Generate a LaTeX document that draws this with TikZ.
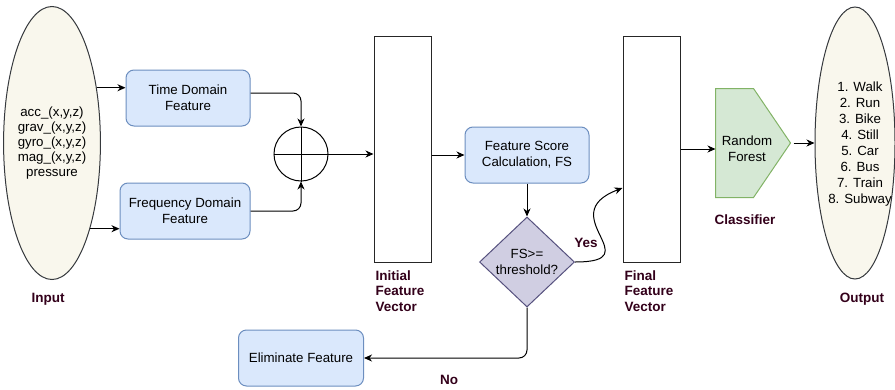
\documentclass[tikz,border=0pt]{standalone}
\usepackage{fontspec}
\setmainfont{Liberation Sans}
\usetikzlibrary{shapes.geometric,arrows.meta}
\definecolor{boxfill}{HTML}{DAE8FC}
\definecolor{boxline}{HTML}{6C8EBF}
\definecolor{condfill}{HTML}{D0CEE2}
\definecolor{condline}{HTML}{56517E}
\definecolor{rffill}{HTML}{D5E8D4}
\definecolor{rfline}{HTML}{82B366}
\definecolor{ellfill}{HTML}{F9F7ED}
\definecolor{ellline}{HTML}{36393D}
\definecolor{lblred}{HTML}{33001A}
\begin{document}
\begin{tikzpicture}[x=1pt,y=-1pt,line width=1pt,>={Stealth[length=8pt,width=7pt,inset=2.5pt]},
	font=\fontsize{13.3}{16}\selectfont,
	box/.style={draw=boxline,fill=boxfill,rounded corners=8pt,minimum height=56pt,align=center,inner sep=0pt},
	vec/.style={draw=black!85,minimum width=57pt,minimum height=226pt},
	lbl/.style={font=\fontsize{13.5}{15.5}\selectfont\bfseries,text=lblred,align=left,inner sep=0pt},
	sense/.style={ellipse,draw=ellline,fill=ellfill,align=center,inner sep=0pt}]
	\useasboundingbox (0,0) rectangle (895,389);
	% sensors and features
	\node[sense,minimum width=79pt,minimum height=273pt,font=\fontsize{13.3}{15}\selectfont] (input) at (52,143) {acc\_(x,y,z)\\grav\_(x,y,z)\\gyro\_(x,y,z)\\mag\_(x,y,z)\\pressure};
	\node[box,minimum width=124pt] (time) at (188,98) {Time Domain\\Feature};
	\node[box,minimum width=130pt] (freq) at (185,211) {Frequency Domain\\Feature};
	\node[circle,draw,minimum size=54pt,inner sep=0pt] (sum) at (301,154) {};
	\draw (sum.north) -- (sum.south) (sum.west) -- (sum.east);
	\node[vec] (init) at (402.5,149) {};
	% selection
	\node[box,minimum width=124pt] (score) at (527,155) {Feature Score\\Calculation, FS};
	\node[diamond,draw=condline,fill=condfill,minimum width=95pt,minimum height=90pt,inner sep=0pt,align=center] (cond) at (527,262) {FS>=\\threshold?};
	\node[box,minimum width=125pt] (elim) at (301,358) {Eliminate Feature};
	\node[vec] (final) at (651.5,149) {};
	% classification
	\node[minimum width=74pt,minimum height=108pt,inner sep=0pt] (rf) at (753,143) {};
	\draw[draw=rfline,fill=rffill] (rf.north west) -- ([xshift=-37pt]rf.north east) -- (rf.east)
		-- ([xshift=-37pt]rf.south east) -- (rf.south west) -- cycle;
	\node[align=center] (rftext) at (747,149) {Random\\Forest};
	\node[sense,minimum width=80pt,minimum height=272pt] (output) at (855,143) {};
	\node[align=center,font=\fontsize{13.3}{15.9}\selectfont] (classes) at (860,144) {1. Walk\\2. Run\\3. Bike\\4. Still\\5. Car\\6. Bus\\7. Train\\8. Subway};
	% labels
	\node[lbl] (inlbl) at (48,299) {Input};
	\node[lbl,anchor=north west] (initlbl) at (375,270) {Initial\\Feature\\Vector};
	\node[lbl,anchor=north west] (finlbl) at (624,270) {Final\\Feature\\Vector};
	\node[lbl] (clslbl) at (745,220) {Classifier};
	\node[lbl] (outlbl) at (862,299) {Output};
	\node[lbl] (yes) at (586,243) {Yes};
	\node[lbl] (no) at (449,380) {No};
	% connectors
	\draw[->] (input.51) -- (input.51 -| time.west);
	\draw[->] (input.-66) -- (input.-66 -| freq.west);
	\draw[->,rounded corners=8pt] ([yshift=5pt]time.east) -| (sum.north);
	\draw[->,rounded corners=8pt] (freq.east) -| (sum.south);
	\draw[->] (sum.east) -- (sum.east -| init.west);
	\draw[->] (init.east |- score.west) -- (score.west);
	\draw[->] (score.south) -- (cond.north);
	\draw[->] (cond.east) .. controls +(76,0) and +(-71,27) .. ([yshift=-39pt]final.west);
	\draw[->,rounded corners=8pt] (cond.south) |- (elim.east);
	\draw[->] (final.east) -- (final.east -| rf.west);
	\draw[->] ([xshift=3pt]rf.east) -- (output.west);
\end{tikzpicture}
\end{document}
